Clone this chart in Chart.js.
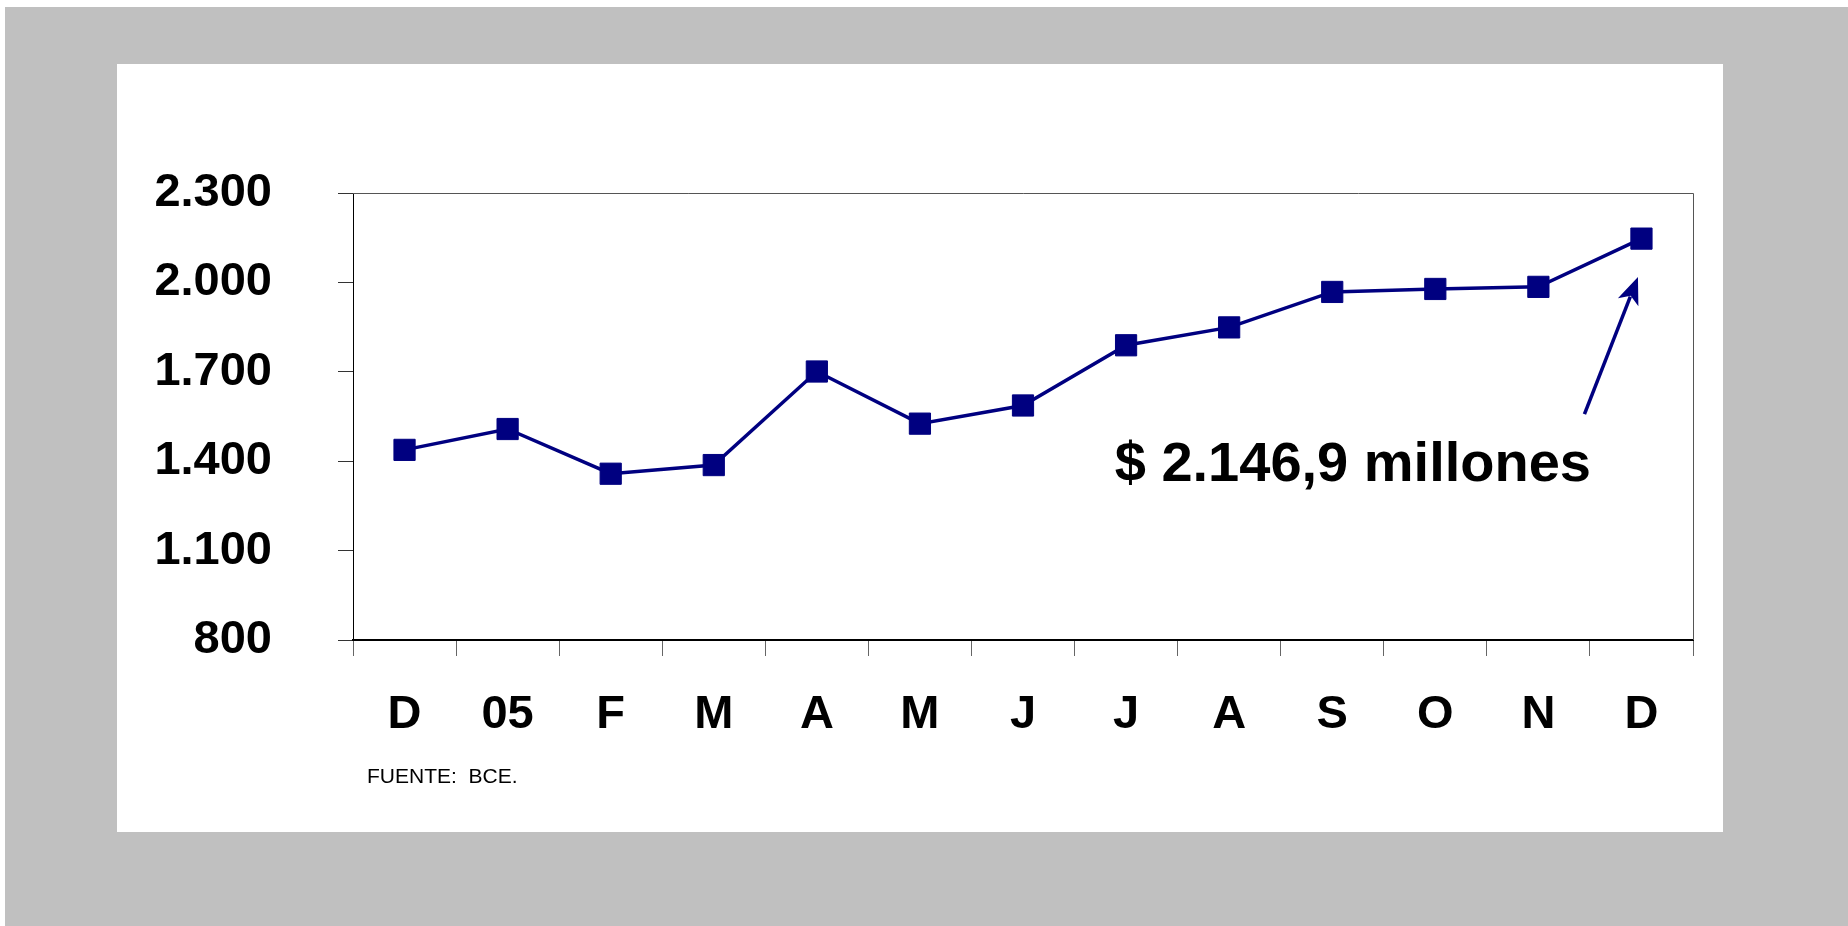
<!DOCTYPE html>
<html><head><meta charset="utf-8">
<script src="https://cdn.jsdelivr.net/npm/chart.js@4.4.1/dist/chart.umd.min.js"></script>
<style>
html,body{margin:0;padding:0;background:#fff;width:1848px;height:926px;overflow:hidden;}
#gray{position:absolute;left:5px;top:7px;width:1843px;height:919px;background:#c0c0c0;}
#panel{position:absolute;left:117px;top:64px;width:1606px;height:768px;background:#fff;}
#wrap{position:absolute;left:0;top:0;width:1848px;height:926px;}
#src{position:absolute;left:367px;top:765px;font:21px "Liberation Sans",Arial,sans-serif;line-height:21px;color:#000;white-space:pre;}
</style></head>
<body>
<div id="gray"></div>
<div id="panel"></div>
<div id="wrap"><canvas id="c" width="1848" height="926"></canvas></div>
<div id="src">FUENTE:  BCE.</div>
<script>
// ---- data ----
const categories = ['D','05','F','M','A','M','J','J','A','S','O','N','D'];
const values = [1438, 1508, 1358, 1387, 1701, 1526, 1587, 1789, 1849, 1968, 1978, 1985, 2146.9];
const yMin = 800;
const yMax = 2300;
const yStep = 300;
const annotationText = '$ 2.146,9 millones';
// annotation anchor in data units (category index, value)
const annotationTextAt = [9.2, 1332];
const arrowTail = [11.447, 1558];
const arrowTip = [11.966, 2018];

function fmt(v){
  return String(Math.round(v)).replace(/\B(?=(\d{3})+(?!\d))/g, '.');
}

const NAVY = '#000080';
const FONT = '"Liberation Sans", Arial, sans-serif';

const extras = {
  id: 'extras',
  afterDraw(chart){
    const {ctx, chartArea: a, scales: {x, y}} = chart;
    ctx.save();
    // top and right frame
    ctx.strokeStyle = '#555';
    ctx.lineWidth = 1;
    ctx.beginPath();
    ctx.moveTo(a.left, a.top + 0.5);
    ctx.lineTo(a.right + 0.5, a.top + 0.5);
    ctx.lineTo(a.right + 0.5, a.bottom);
    ctx.stroke();
    // annotation text
    ctx.fillStyle = '#000';
    ctx.font = 'bold 56px ' + FONT;
    ctx.textAlign = 'center';
    ctx.textBaseline = 'alphabetic';
    ctx.fillText(annotationText, x.getPixelForValue(annotationTextAt[0]), y.getPixelForValue(annotationTextAt[1]));
    // arrow
    const tx = x.getPixelForValue(arrowTail[0]), ty = y.getPixelForValue(arrowTail[1]);
    const hx = x.getPixelForValue(arrowTip[0]), hy = y.getPixelForValue(arrowTip[1]);
    const ang = Math.atan2(hy - ty, hx - tx);
    const hl = 27, hw = 11;
    const bx = hx - hl * Math.cos(ang), by = hy - hl * Math.sin(ang);
    ctx.strokeStyle = NAVY;
    ctx.lineWidth = 3.5;
    ctx.beginPath();
    ctx.moveTo(tx, ty);
    ctx.lineTo(bx + 6*Math.cos(ang), by + 6*Math.sin(ang));
    ctx.stroke();
    ctx.fillStyle = NAVY;
    ctx.beginPath();
    ctx.moveTo(hx, hy);
    ctx.lineTo(bx + hw * Math.sin(ang), by - hw * Math.cos(ang));
    ctx.lineTo(bx + 7*Math.cos(ang), by + 7*Math.sin(ang));
    ctx.lineTo(bx - hw * Math.sin(ang), by + hw * Math.cos(ang));
    ctx.closePath();
    ctx.fill();
    ctx.restore();
  }
};

new Chart(document.getElementById('c'), {
  type: 'line',
  data: {
    labels: categories,
    datasets: [{
      data: values,
      borderColor: NAVY,
      borderWidth: 3.5,
      backgroundColor: NAVY,
      pointStyle: 'rect',
      pointRadius: 15,
      pointBorderWidth: 1,
      pointBorderColor: NAVY,
      pointBackgroundColor: NAVY,
      tension: 0,
      fill: false
    }]
  },
  options: {
    responsive: false,
    animation: false,
    devicePixelRatio: 1,
    layout: { padding: { left: 100, top: 193, right: 155, bottom: 186 } },
    plugins: { legend: { display: false }, tooltip: { enabled: false } },
    scales: {
      x: {
        type: 'category',
        offset: true,
        afterFit(s){ s.height = 100; },
        grid: { display: true, offset: true, drawOnChartArea: false, drawTicks: true, tickLength: 16, color: '#666', lineWidth: 1 },
        border: { display: true, color: '#000', width: 2 },
        ticks: { color: '#000', font: { family: FONT, size: 47, weight: 'bold' }, padding: 31, autoSkip: false, maxRotation: 0 }
      },
      y: {
        min: yMin, max: yMax,
        afterFit(s){ s.width = 253; },
        grid: { display: true, drawOnChartArea: false, drawTicks: true, tickLength: 15, color: '#333', lineWidth: 1 },
        border: { display: true, color: '#000', width: 1 },
        ticks: { stepSize: yStep, color: '#000', font: { family: FONT, size: 47, weight: 'bold' }, padding: 66, callback: (v) => fmt(v) }
      }
    }
  },
  plugins: [extras]
});
</script>
</body></html>
